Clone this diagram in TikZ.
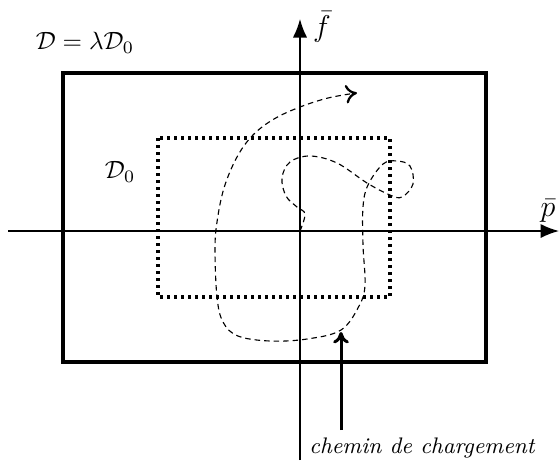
\documentclass[tikz,border=0pt]{standalone}
\usetikzlibrary{positioning,arrows.meta}

\begin{document}
\begin{tikzpicture}[
  x=0.4pt, y=-0.4pt,
  axis/.style={-{Latex[length=2.6mm,width=2mm]}, line width=0.6pt},
  outerdom/.style={line width=1.3pt},
  subdom/.style={line width=1.3pt, dash pattern=on 1.3pt off 1.5pt},
  chemin/.style={dash pattern=on 2.2pt off 1.6pt, line width=0.45pt},
  pointer/.style={-{To[length=1.6mm,width=2.2mm]}, line width=1.2pt},
]
\useasboundingbox (0,0) rectangle (560,462);

% =========================== DOMAINS ===========================
\draw[outerdom] (63,73) rectangle (486,362);
\draw[subdom] (158,138) rectangle (390,297);
\node (dlam) at (85,43) {$\mathcal{D}=\lambda\mathcal{D}_0$};
\node (dzero) at (120,172) {$\mathcal{D}_0$};

% =========================== AXES ===========================
\coordinate (o) at (300,231);
\draw[axis] (8,231) -- (559,231) coordinate (pend);
\draw[axis] (300,460) -- (300,19) coordinate (fend);
\node[font=\large, inner sep=1pt] (plab) at (548,211) {$\bar{p}$};
\node[font=\large, inner sep=1pt, anchor=west] (flab) at (310,27) {$\bar{f}$};

% =========================== LOADING PATH ===========================
\draw[chemin]
  plot[smooth, tension=0.6] coordinates {(o) (305,214) (297,207) (286,196) (282,178)
    (290,162) (310,156) (337,163) (367,183) (390,195) (402,197) (413,184) (410,166)
    (397,161) (383,164) (368,185) (363,207) (363,245) (365,285) (359,306) (341,330)
    (307,339) (270,341) (238,336) (223,322) (217,297) (215,250) (217,222) (224,188)
    (237,157) (253,135) (274,119) (300,107) (328,98) (356,93)};
\draw[-{To[length=1.6mm,width=2.6mm]}, line width=0.9pt] (352,93.6) -- (357,93);

\node[font=\small\itshape] (clab) at (422,448) {chemin de chargement};
\coordinate (ctip) at (341,332);
\draw[pointer] (341,430) -- (ctip);

\end{tikzpicture}
\end{document}
